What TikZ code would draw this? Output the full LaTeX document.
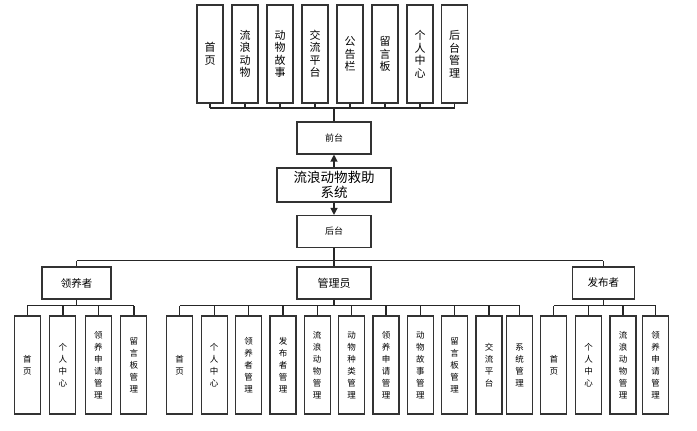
\documentclass[tikz,border=0pt]{standalone}
\usepackage{fontspec}
\setmainfont{Noto Sans CJK SC}
\usetikzlibrary{arrows.meta}
\tikzset{
  box/.style={draw=black!80, line width=1.1pt, fill=white, inner sep=0pt},
  tbox/.style={box, minimum width=26pt, minimum height=98pt, align=center, font=\fontsize{11}{12.5}\selectfont},
  cbox/.style={box, minimum width=26pt, minimum height=98pt, align=center, font=\fontsize{8.5}{12}\selectfont},
  hbox/.style={box, minimum width=74pt, minimum height=32pt},
  wire/.style={draw=black!85, line width=1.2pt},
  arr/.style={wire, -{Triangle[width=7pt,length=7pt]}},
}
\begin{document}
\begin{tikzpicture}[x=1pt,y=-1pt]
\useasboundingbox (0,0) rectangle (697,431);
% top row
\node[tbox] (t1) at (210,54) {首\\页};
\node[tbox] (t2) at (245,54) {流\\浪\\动\\物};
\node[tbox] (t3) at (280,54) {动\\物\\故\\事};
\node[tbox] (t4) at (315,54) {交\\流\\平\\台};
\node[tbox] (t5) at (350,54) {公\\告\\栏};
\node[tbox] (t6) at (385,54) {留\\言\\板};
\node[tbox] (t7) at (420,54) {个\\人\\中\\心};
\node[tbox] (t8) at (454.5,54) {后\\台\\管\\理};
% middle
\node[hbox, font=\fontsize{9}{11}\selectfont] (qt) at (334,138) {前台};
\node[box, minimum width=114pt, minimum height=34pt, align=center, font=\fontsize{13.5}{15}\selectfont] (sys) at (334,185) {流浪动物救助\\系统};
\node[hbox, font=\fontsize{9}{11}\selectfont] (ht) at (334,231.5) {后台};
% level 2
\node[box, minimum width=69pt, minimum height=32pt, font=\fontsize{10.5}{12}\selectfont] (ly) at (76.5,283) {领养者};
\node[hbox, font=\fontsize{11}{13}\selectfont] (gl) at (334,283) {管理员};
\node[box, minimum width=62pt, minimum height=32pt, font=\fontsize{10.5}{12}\selectfont] (fb) at (603.3,283) {发布者};
% children of 领养者
\node[cbox] (a1) at (27.3,365) {首\\页};
\node[cbox] (a2) at (62.9,365) {个\\人\\中\\心};
\node[cbox] (a3) at (98.4,365) {领\\养\\申\\请\\管\\理};
\node[cbox] (a4) at (133.9,365) {留\\言\\板\\管\\理};
% children of 管理员
\node[cbox] (b1) at (179.7,365) {首\\页};
\node[cbox] (b2) at (214.2,365) {个\\人\\中\\心};
\node[cbox] (b3) at (248.7,365) {领\\养\\者\\管\\理};
\node[cbox] (b4) at (283,365) {发\\布\\者\\管\\理};
\node[cbox] (b5) at (317.2,365) {流\\浪\\动\\物\\管\\理};
\node[cbox] (b6) at (351.5,365) {动\\物\\种\\类\\管\\理};
\node[cbox] (b7) at (386,365) {领\\养\\申\\请\\管\\理};
\node[cbox] (b8) at (420.3,365) {动\\物\\故\\事\\管\\理};
\node[cbox] (b9) at (454.7,365) {留\\言\\板\\管\\理};
\node[cbox] (b10) at (489,365) {交\\流\\平\\台};
\node[cbox] (b11) at (519.7,365) {系\\统\\管\\理};
% children of 发布者
\node[cbox] (c1) at (553.8,365) {首\\页};
\node[cbox] (c2) at (588.7,365) {个\\人\\中\\心};
\node[cbox] (c3) at (623,365) {流\\浪\\动\\物\\管\\理};
\node[cbox] (c4) at (655.7,365) {领\\养\\申\\请\\管\\理};
% bus coordinates
\coordinate (topbus) at (0,108);
\coordinate (midbus) at (0,260.7);
\coordinate (lowbus) at (0,305.7);
% top connectors
\foreach \n in {t1,t2,t3,t4,t5,t6,t7,t8} \draw[wire] (\n.south) -- (\n.south |- topbus);
\draw[wire] (t1.south |- topbus) -- (t8.south |- topbus);
\draw[wire] (qt.north) -- (qt.north |- topbus);
% arrows
\draw[arr] (sys.north) -- (qt.south);
\draw[arr] (sys.south) -- (ht.north);
% level 2 connectors
\draw[wire] (ht.south) -- (ht.south |- midbus);
\draw[wire] (ly.north |- midbus) -- (fb.north |- midbus);
\foreach \n in {ly,gl,fb} \draw[wire] (\n.north) -- (\n.north |- midbus);
% children buses
\foreach \p/\f/\l/\list in {ly/a1/a4/{a1,a2,a3,a4}, gl/b1/b11/{b1,b2,b3,b4,b5,b6,b7,b8,b9,b10,b11}, fb/c1/c4/{c1,c2,c3,c4}} {
  \draw[wire] (\p.south) -- (\p.south |- lowbus);
  \draw[wire] (\f.north |- lowbus) -- (\l.north |- lowbus);
  \foreach \c in \list \draw[wire] (\c.north) -- (\c.north |- lowbus);
}
\end{tikzpicture}
\end{document}
